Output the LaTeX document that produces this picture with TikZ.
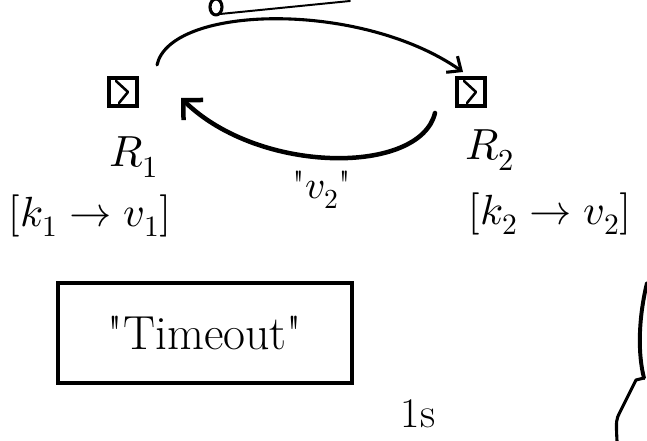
\documentclass[tikz,border=0pt]{standalone}
\usepackage{fontspec}
\usepackage{unicode-math}
\usepackage{tikz}
\usetikzlibrary{arrows.meta,positioning}
\tikzset{
  ink/.style={line width=2.2pt,line cap=round,line join=round},
  srvbox/.style={draw,line width=2.6pt,minimum size=7mm,inner sep=0pt},
  srvlab/.style={font=\fontsize{31}{33}\selectfont,inner sep=1pt},
  kvlab/.style={font=\fontsize{30}{32}\selectfont,inner sep=1pt},
  msglab/.style={font=\fontsize{28}{30}\selectfont,inner sep=1pt},
  tobox/.style={draw,line width=2.4pt,minimum width=7.35cm,minimum height=2.5cm,
      font=\fontsize{34}{36}\selectfont,inner sep=0pt},
  hand/.style={ink,-{Straight Barb[length=8pt,width=14pt,line width=2.2pt]}},
  handbig/.style={ink,line width=3.2pt,-{Straight Barb[length=10pt,width=20pt,line width=3.2pt]}},
}
\newcommand{\replica}[4]{%
  \node[srvbox] (#1) at (#2) {};
  \draw[ink,line width=1.8pt] ([shift={(-7,-11)}]#1.center) -- ([shift={(5,0)}]#1.center)
    -- ([shift={(-4,11)}]#1.center);
  \node[srvlab] (#1lab) at (#3) {$#4$};}
\newcommand{\qq}{\textquotedbl}

\begin{document}
\begin{tikzpicture}[x=0.025cm,y=-0.025cm]
  \useasboundingbox (0,0) rectangle (647,441);

  \replica{r1}{123,92}{134,157}{R_1}
  \replica{r2}{471,92}{490,150}{R_2}

  % request and reply between the replicas
  \draw[hand] ([shift={(34,-27)}]r1.center) .. controls (170,5) and (360,0)
    .. ([shift={(-8,-20)}]r2.center);
  \draw[handbig] ([shift={(-36,21)}]r2.center) .. controls (420,175) and (260,175)
    .. ([shift={(58,6)}]r1.center);
  \node[msglab] (val) at (322,190) {\qq$v_2$\qq};

  \node[kvlab] (kv1) at (90,216) {$[k_1 \rightarrow v_1]$};
  \node[kvlab] (kv2) at (550,214) {$[k_2 \rightarrow v_2]$};

  \node[tobox] (tmo) at (205,333) {\qq Timeout\qq};
  \node[kvlab] (sec) at (418,414) {1s};

  % cut-off strokes at the edges
  \draw[ink] (216,7) ellipse (6 and 8);
  \draw[ink,line width=1.4pt] (220,14) -- (350,1);
  \draw[ink,line width=2.8pt] (647,283) .. controls (638,320) and (638,355) .. (644,378);
  \draw[ink] (644,378) -- (636,380) -- (620,412) .. controls (616,420) .. (617,441);
\end{tikzpicture}
\end{document}
